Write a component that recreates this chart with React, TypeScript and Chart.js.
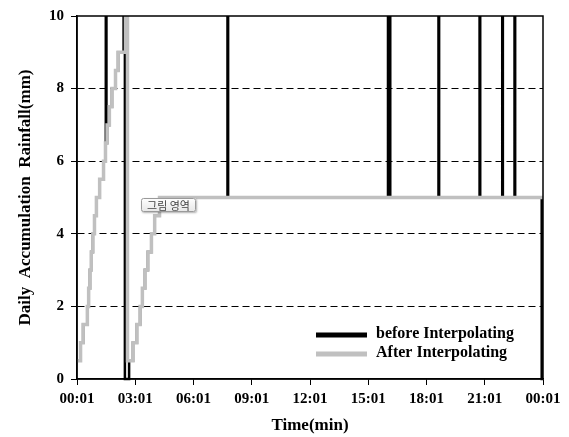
import React, { useEffect, useRef } from 'react';
import { Chart, registerables } from 'chart.js';

Chart.register(...registerables);

// ---- data ----
const xTickLabels = ['00:01', '03:01', '06:01', '09:01', '12:01', '15:01', '18:01', '21:01', '00:01'];

// After interpolating (grey): minute of day, cumulative rainfall (mm)
const afterTimes = [0, 11, 19, 32, 36, 40, 44, 49, 54, 60, 70, 82, 88, 93, 100, 108, 119, 127, 150, 156, 173, 185, 195, 202, 210, 219, 230, 240, 255, 1440];
const afterValues = [0.5, 1, 1.5, 2, 2.5, 3, 3.5, 4, 4.5, 5, 5.5, 6, 6.5, 7, 7.5, 8, 8.5, 9, 20, 0.5, 1, 1.5, 2, 2.5, 3, 3.5, 4, 4.5, 5, 5];

// Before interpolating (black): raw values with out-of-range spikes
const beforeTimes = [0, 11, 19, 32, 36, 40, 44, 49, 54, 60, 70, 82, 88, 89, 91, 93, 100, 108, 119, 127, 144, 148, 161, 173, 185, 195, 202, 210, 219, 230, 240, 255, 465, 467, 961, 968, 1117, 1119, 1244, 1246, 1314, 1316, 1352, 1354, 1436, 1440];
const beforeValues = [0.5, 1, 1.5, 2, 2.5, 3, 3.5, 4, 4.5, 5, 5.5, 6, 6.5, 50, 6.5, 7, 7.5, 8, 8.5, 9, 50, 0, 0.5, 1, 1.5, 2, 2.5, 3, 3.5, 4, 4.5, 5, 50, 5, 50, 5, 50, 5, 50, 5, 50, 5, 50, 5, 0, 0];

const seriesNames = ['before Interpolating', 'After Interpolating'];
const seriesColors = ['#000000', '#c0c0c0'];

const SERIF = '"Liberation Serif", "Times New Roman", serif';

const decorPlugin = {
  id: 'decor',
  afterDatasetsDraw(chart: any) {
    const { ctx, chartArea: a } = chart;
    ctx.save();
    // plot border
    ctx.strokeStyle = '#000';
    ctx.lineWidth = 1.5;
    ctx.setLineDash([]);
    ctx.strokeRect(a.left, a.top, a.right - a.left, a.bottom - a.top);

    // legend (inside plot, bottom right)
    const barX = a.right - 227;
    const barW = 51;
    const ys = [a.bottom - 44, a.bottom - 25];
    ctx.font = 'bold 16px ' + SERIF;
    ctx.textBaseline = 'middle';
    ctx.textAlign = 'left';
    for (let i = 0; i < 2; i++) {
      ctx.fillStyle = seriesColors[i];
      ctx.fillRect(barX, ys[i] - 2.5, barW, 5);
      ctx.fillStyle = '#000';
      ctx.fillText(seriesNames[i], barX + barW + 9, ys[i] - 1);
    }

    // "Plot Area" hover label
    const bx = a.left + 64, by = a.top + 182, bw = 55, bh = 14;
    ctx.save();
    ctx.shadowColor = 'rgba(0,0,0,0.3)';
    ctx.shadowOffsetX = 1;
    ctx.shadowOffsetY = 1;
    ctx.shadowBlur = 2;
    const g = ctx.createLinearGradient(0, by, 0, by + bh);
    g.addColorStop(0, '#ffffff');
    g.addColorStop(1, '#e6e6e6');
    ctx.fillStyle = g;
    ctx.beginPath();
    ctx.roundRect(bx, by, bw, bh, 2);
    ctx.fill();
    ctx.restore();
    ctx.strokeStyle = '#9a9a9a';
    ctx.lineWidth = 1;
    ctx.beginPath();
    ctx.roundRect(bx + 0.5, by + 0.5, bw - 1, bh - 1, 2);
    ctx.stroke();
    ctx.fillStyle = '#444';
    ctx.font = '11px "Noto Sans CJK KR", sans-serif';
    ctx.textAlign = 'center';
    ctx.textBaseline = 'middle';
    ctx.fillText('그림 영역', bx + bw / 2, by + bh / 2 + 0.5);
    ctx.restore();
  },
};

export default function App() {
  const ref = useRef<HTMLCanvasElement | null>(null);

  useEffect(() => {
    document.body.style.margin = '0';
    const canvas = ref.current;
    if (!canvas) return;
    const chart = new Chart(canvas, {
      type: 'line',
      data: {
        datasets: [
          {
            label: seriesNames[0],
            data: beforeTimes.map((t, i) => ({ x: t, y: beforeValues[i] })),
            borderColor: seriesColors[0],
            backgroundColor: seriesColors[0],
            borderWidth: 2.5,
            pointRadius: 0,
            stepped: 'before',
            order: 1,
            clip: { left: 0, top: 0, right: 2, bottom: 2 },
          } as any,
          {
            label: seriesNames[1],
            data: afterTimes.map((t, i) => ({ x: t, y: afterValues[i] })),
            borderColor: seriesColors[1],
            backgroundColor: seriesColors[1],
            borderWidth: 3.5,
            pointRadius: 0,
            stepped: 'before',
            order: 0,
            clip: { left: 0, top: 0, right: 2, bottom: 2 },
          } as any,
        ],
      },
      options: {
        animation: false,
        responsive: false,
        events: [],
        layout: { padding: { top: 11, right: 26, left: 0, bottom: 0 } },
        plugins: {
          legend: { display: false },
          tooltip: { enabled: false },
        },
        scales: {
          x: {
            type: 'linear',
            min: 0,
            max: 1440,
            afterFit: (s: any) => { s.height = 58; },
            ticks: {
              stepSize: 180,
              autoSkip: false,
              maxRotation: 0,
              padding: 5,
              color: '#000',
              font: { family: SERIF, size: 15, weight: 'bold' },
              callback: (_v: any, i: number) => xTickLabels[i],
            },
            grid: {
              drawOnChartArea: false,
              drawTicks: true,
              tickLength: 6,
              tickColor: '#000',
              color: '#000',
              lineWidth: 1,
            },
            border: { display: true, color: '#000', width: 1.5 },
            title: {
              display: true,
              text: 'Time(min)',
              color: '#000',
              font: { family: SERIF, size: 17, weight: 'bold' },
              padding: { top: 0, bottom: 1 },
            },
          },
          y: {
            min: 0,
            max: 10,
            afterFit: (s: any) => { s.width = 77; },
            ticks: {
              stepSize: 2,
              padding: 7,
              color: '#000',
              font: { family: SERIF, size: 15, weight: 'bold' },
            },
            grid: {
              color: (c: any) => (c.tick && (c.tick.value === 0 || c.tick.value === 10)) ? 'rgba(0,0,0,0)' : '#000',
              tickColor: '#000',
              tickLength: 6,
              lineWidth: 1,
            },
            border: { display: true, color: '#000', width: 1.5, dash: [7, 4] },
            title: {
              display: true,
              text: 'Daily  Accumulation  Rainfall(mm)',
              color: '#000',
              font: { family: SERIF, size: 17, weight: 'bold' },
              padding: { top: 15, bottom: 0 },
            },
          },
        },
      } as any,
      plugins: [decorPlugin],
    });
    return () => chart.destroy();
  }, []);

  return (
    <div style={{ width: 569, height: 437, position: 'relative' }}>
      <canvas ref={ref} width={569} height={437} style={{ display: 'block' }} />
    </div>
  );
}
